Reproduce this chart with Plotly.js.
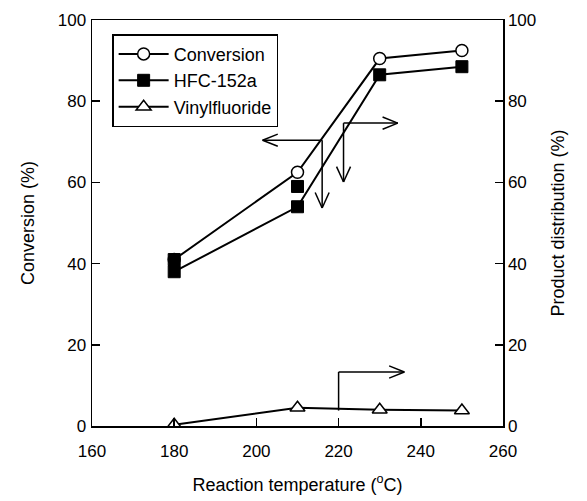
<!DOCTYPE html>
<html>
<head>
<meta charset="utf-8">
<script src="https://cdn.plot.ly/plotly-3.0.1.min.js"></script>
<style>html,body{margin:0;padding:0;background:#fff;}#chart{width:587px;height:501px;}</style>
</head>
<body>
<div id="chart"></div>
<script>
// Data
const temperature = [180, 210, 230, 250];
const conversion = [41, 62.5, 90.5, 92.5];
const hfc152a = [38, 54, 86.5, 88.5];
const hfcRepeatTemp = [180, 210];
const hfcRepeat = [41, 59];
const vinylfluoride = [0.3, 4.5, 4, 3.8];
const yTicks = [0, 20, 40, 60, 80, 100];
const xTicks = [160, 180, 200, 220, 240, 260];

const family = 'Arial, "Liberation Sans", sans-serif';
const tickFont = {family: family, size: 17, color: '#000'};
const titleFont = {family: family, size: 18, color: '#000'};
const legendFont = {family: family, size: 18, color: '#000'};
const lineStyle = {color: '#000', width: 2};

const traces = [
  {x: temperature, y: vinylfluoride, name: 'Vinylfluoride', yaxis: 'y2', mode: 'lines+markers', legendrank: 3,
   line: lineStyle, marker: {symbol: 'triangle-up', size: 13, color: '#fff', line: {color: '#000', width: 1.5}}},
  {x: temperature, y: conversion, name: 'Conversion', mode: 'lines+markers', legendrank: 1,
   line: lineStyle, marker: {symbol: 'circle', size: 12, color: '#fff', line: {color: '#000', width: 1.5}}},
  {x: temperature, y: hfc152a, name: 'HFC-152a', yaxis: 'y2', mode: 'lines+markers', legendrank: 2,
   line: lineStyle, marker: {symbol: 'square', size: 12, color: '#000', line: {color: '#000', width: 1}}},
  {x: hfcRepeatTemp, y: hfcRepeat, name: 'HFC-152a', yaxis: 'y2', mode: 'markers', showlegend: false,
   marker: {symbol: 'square', size: 12, color: '#000', line: {color: '#000', width: 1}}}
];

// helper arrows (annotation lines) in data coordinates
function seg(x0, y0, x1, y1, yref) {
  return {type: 'line', xref: 'x', yref: yref || 'y', x0: x0, y0: y0, x1: x1, y1: y1,
          line: {color: '#000', width: 1.5}};
}
const shapes = [
  // arrow 1: left arrow + down arrow
  seg(201.5, 70.4, 216, 70.4),
  seg(201.5, 70.4, 205.2, 71.9), seg(201.5, 70.4, 205.2, 68.9),
  seg(216, 70.4, 216, 53.7),
  seg(216, 53.7, 214.3, 57.5), seg(216, 53.7, 217.7, 57.5),
  // arrow 2: right arrow + down arrow
  seg(221.2, 74.6, 234.4, 74.6),
  seg(234.4, 74.6, 230.7, 76.1), seg(234.4, 74.6, 230.7, 73.1),
  seg(221.2, 74.6, 221.2, 60.1),
  seg(221.2, 60.1, 219.5, 63.9), seg(221.2, 60.1, 222.9, 63.9),
  // arrow 3: bottom bent right arrow
  seg(220, 3.8, 220, 13.3, 'y2'),
  seg(220, 13.3, 236, 13.3, 'y2'),
  seg(236, 13.3, 232.3, 14.8, 'y2'), seg(236, 13.3, 232.3, 11.8, 'y2')
];

const axisCommon = {
  showgrid: false, zeroline: false, showline: true, linecolor: '#000', linewidth: 1.5,
  ticks: 'inside', ticklen: 8, tickwidth: 1.5, tickcolor: '#000', tickfont: tickFont
};

const layout = {
  width: 587, height: 501,
  margin: {l: 92, r: 84, t: 20, b: 75},
  paper_bgcolor: '#fff', plot_bgcolor: '#fff',
  font: tickFont,
  showlegend: true,
  legend: {x: 0.049, y: 0.965, xanchor: 'left', yanchor: 'top', bgcolor: '#fff', itemwidth: 50,
           bordercolor: '#000', borderwidth: 1.5, font: legendFont, traceorder: 'normal', tracegroupgap: 0},
  xaxis: Object.assign({}, axisCommon, {range: [160, 260], tickvals: xTicks, mirror: true, ticklabelstandoff: 9,
           title: {text: 'Reaction temperature (<sup>o</sup>C)', font: titleFont, standoff: 18}}),
  yaxis: Object.assign({}, axisCommon, {range: [0, 100], tickvals: yTicks, ticklabelstandoff: 1,
           title: {text: 'Conversion (%)', font: titleFont, standoff: 18}}),
  yaxis2: Object.assign({}, axisCommon, {range: [0, 100], tickvals: yTicks, overlaying: 'y', side: 'right',
           title: {text: 'Product distribution (%)', font: titleFont, standoff: 16}}),
  shapes: shapes
};

Plotly.newPlot('chart', traces, layout, {displayModeBar: false, staticPlot: true});
</script>
</body>
</html>
